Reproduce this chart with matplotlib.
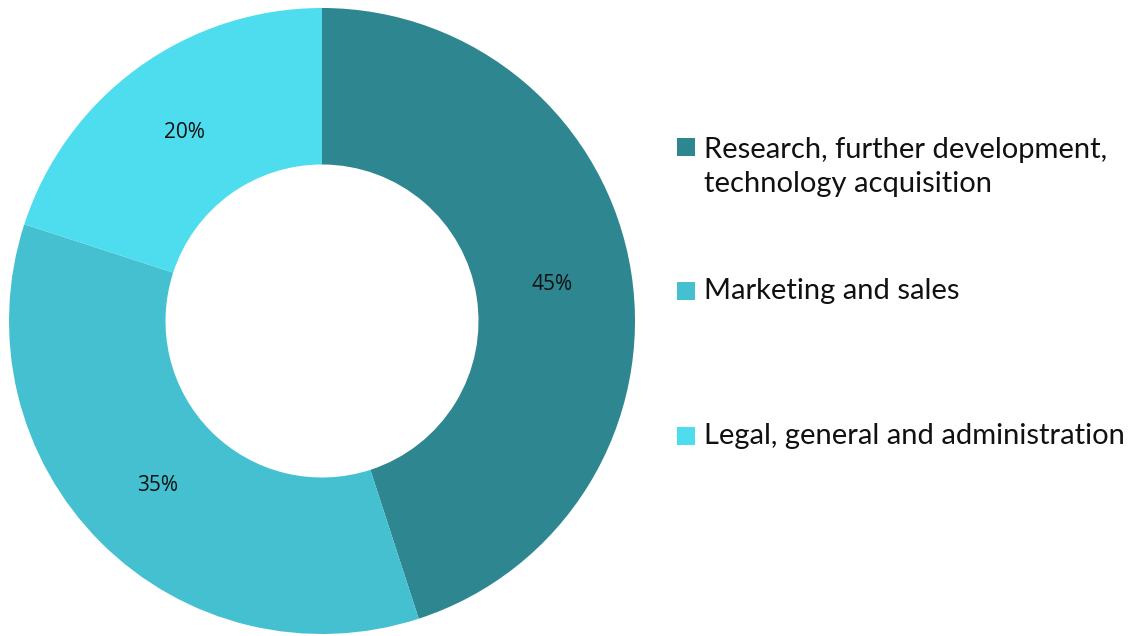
import matplotlib
matplotlib.use('Agg')
import matplotlib.pyplot as plt
from matplotlib.patches import Rectangle

# data
labels = ['Research, further development,\ntechnology acquisition',
          'Marketing and sales',
          'Legal, general and administration']
values = [45, 35, 20]
colors = ['#2E8690', '#44C0D0', '#4EDDEE']

W, H = 1135, 636
fig = plt.figure(figsize=(W / 100, H / 100), dpi=100)

# donut, centre (322,321) px, radius 313 px
cx, cy, r = 322, 321, 313
ax = fig.add_axes([(cx - r) / W, (H - cy - r) / H, 2 * r / W, 2 * r / H])
wedges, texts, autotexts = ax.pie(values, colors=colors, startangle=90, counterclock=False,
                                  radius=1, autopct='%d%%', pctdistance=0.745,
                                  wedgeprops=dict(width=0.5, linewidth=0),
                                  textprops=dict(fontsize=15, family='Open Sans', color='#111111'))
ax.set_xlim(-1, 1)
ax.set_ylim(-1, 1)
ax.set_aspect('equal')
ax.axis('off')

# legend drawn by hand: square top and first baseline in px
sq_y = [138, 282, 427]
base_y = [158, 299, 444]
for lab, c, y, b in zip(labels, colors, sq_y, base_y):
    fig.add_artist(Rectangle((677 / W, 1 - (y + 18) / H), 18 / W, 18 / H,
                             transform=fig.transFigure, color=c, lw=0))
    for i, line in enumerate(lab.split('\n')):
        fig.text(704 / W, 1 - (b + 34 * i) / H, line, fontsize=21, family='Lato',
                 color='#111111', va='baseline', ha='left')

fig.savefig('out.png', dpi=100)
